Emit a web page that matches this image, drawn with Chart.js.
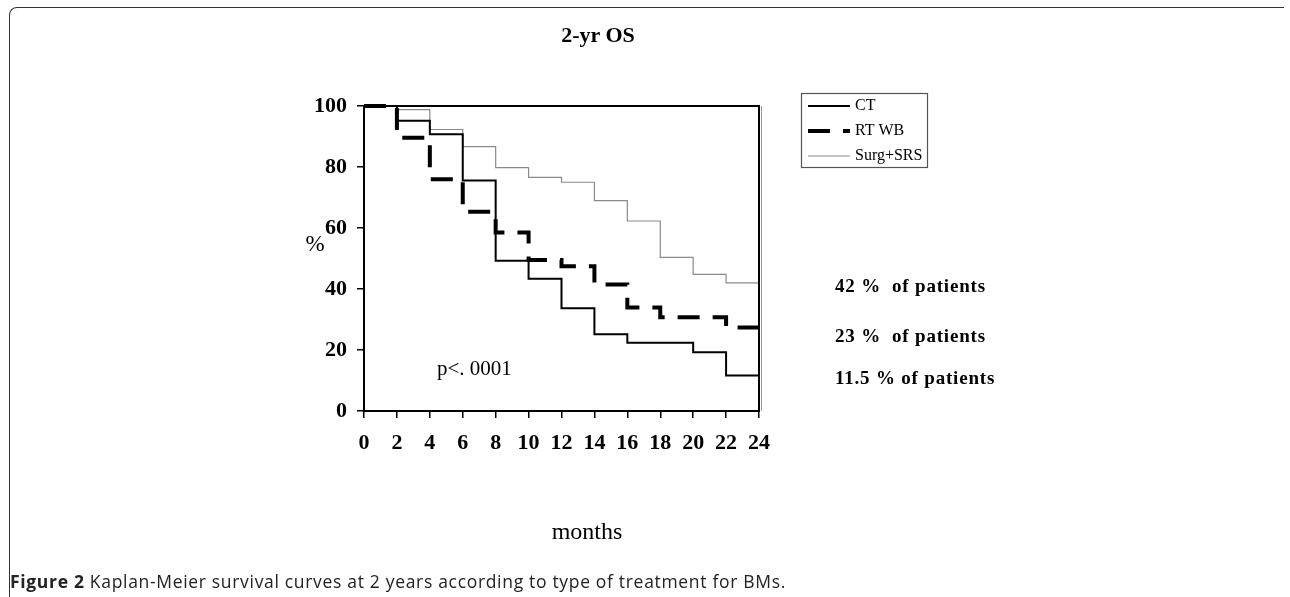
<!DOCTYPE html>
<html>
<head>
<meta charset="utf-8">
<script src="https://cdn.jsdelivr.net/npm/chart.js@4.4.0/dist/chart.umd.min.js"></script>
<style>
  html, body { margin: 0; padding: 0; background: #fff; }
  body { width: 1290px; height: 597px; position: relative; overflow: hidden; }
  #frame {
    position: absolute; left: 9px; top: 7px; width: 1274px; height: 620px;
    border-top: 1.5px solid #333; border-left: 1.5px solid #333;
    border-top-left-radius: 8px;
  }
  #wrap { position: absolute; left: 0; top: 0; }
  .txt { position: absolute; font-family: 'Liberation Serif', 'Times New Roman', serif; color: #000; line-height: 1; white-space: pre; }
  .c { transform: translate(-50%, -50%); }
  .l { transform: translate(0, -50%); }
  #title { left: 598px; top: 35px; font-size: 22px; font-weight: bold; }
  #pct { left: 315px; top: 243px; font-size: 23px; }
  #pval { left: 437px; top: 368px; font-size: 21px; }
  #xlab { left: 587px; top: 531px; font-size: 24px; }
  .note { left: 835px; font-size: 19px; font-weight: bold; letter-spacing: 0.8px; }
  #n0 { top: 285px; }
  #n1 { top: 335px; }
  #n2 { top: 377px; }
  #caption {
    position: absolute; left: 10px; top: 581px; transform: translate(0, -50%);
    font-family: 'Open Sans', sans-serif; font-size: 17.5px; letter-spacing: 0.68px;
    color: #222; white-space: nowrap;
  }
</style>
</head>
<body>
<div id="frame"></div>
<div id="wrap"><canvas id="km" width="1290" height="597"></canvas></div>
<div id="title" class="txt c">2-yr OS</div>
<div id="pct" class="txt c">%</div>
<div id="pval" class="txt l">p&lt;. 0001</div>
<div id="xlab" class="txt c">months</div>
<div id="notes"></div>
<div id="caption"><b>Figure 2</b> Kaplan-Meier survival curves at 2 years according to type of treatment for BMs.</div>

<script>
// months on the x axis (value at t holds until next step)
const months = [0, 2, 4, 6, 8, 10, 12, 14, 16, 18, 20, 22, 24];
const seriesNames = ['CT', 'RT WB', 'Surg+SRS'];

// survival %
const ctSurv   = [100, 95.2, 90.7, 75.6, 49.3, 43.4, 33.7, 25.2, 22.4, 22.4, 19.3, 11.6, 11.6];
const rtwbSurv = [100, 89.6, 76.0, 65.3, 58.5, 49.5, 47.5, 41.5, 33.9, 30.7, 30.7, 27.4, 27.4];
const surgSurv = [100, 98.8, 92.3, 86.7, 79.8, 76.6, 75.0, 69.0, 62.3, 50.4, 44.8, 42.0, 42.0];

const yTicks = [0, 20, 40, 60, 80, 100];
const notes = ['42 %  of patients', '23 %  of patients', '11.5 % of patients'];

const toPts = arr => months.map((m, i) => ({ x: m, y: arr[i] }));

const serifBold = { family: "'Liberation Serif', 'Times New Roman', serif", size: 22, weight: 'bold' };

// notes at the right
notes.forEach((t, i) => {
  const d = document.createElement('div');
  d.className = 'txt l note';
  d.id = 'n' + i;
  d.textContent = t;
  document.getElementById('notes').appendChild(d);
});

// box round the plot + the boxed legend
const extras = {
  id: 'extras',
  afterDatasetsDraw(chart) {
    const { ctx, chartArea: a } = chart;
    ctx.save();
    ctx.strokeStyle = '#000';
    ctx.lineWidth = 2;
    ctx.strokeRect(a.left, a.top, a.right - a.left, a.bottom - a.top);
    ctx.strokeStyle = '#999';
    ctx.lineWidth = 1;
    ctx.beginPath();
    ctx.moveTo(a.right + 2.5, a.top);
    ctx.lineTo(a.right + 2.5, a.bottom);
    ctx.stroke();

    // legend
    const bx = 801, by = 93, bw = 126, bh = 74;
    ctx.strokeStyle = '#555';
    ctx.lineWidth = 1.2;
    ctx.strokeRect(bx + 0.5, by + 0.5, bw, bh);
    ctx.font = "16px 'Liberation Serif', 'Times New Roman', serif";
    ctx.textBaseline = 'middle';
    ctx.fillStyle = '#000';
    chart.data.datasets.forEach((ds, i) => {
      const yy = by + 13 + i * 25;
      ctx.save();
      ctx.strokeStyle = ds.borderColor;
      ctx.lineWidth = ds.borderWidth;
      ctx.setLineDash(ds.borderDash || []);
      ctx.beginPath();
      ctx.moveTo(bx + 7, yy);
      ctx.lineTo(bx + 49, yy);
      ctx.stroke();
      ctx.restore();
      ctx.fillText(ds.label, bx + 54, yy);
    });
    ctx.restore();
  }
};

new Chart(document.getElementById('km').getContext('2d'), {
  type: 'line',
  data: {
    datasets: [
      { label: seriesNames[0], data: toPts(ctSurv), borderColor: '#000', borderWidth: 2, stepped: true },
      { label: seriesNames[1], data: toPts(rtwbSurv), borderColor: '#000', borderWidth: 4, borderDash: [22, 13], stepped: true },
      { label: seriesNames[2], data: toPts(surgSurv), borderColor: '#8a8a8a', borderWidth: 1.2, stepped: true }
    ]
  },
  options: {
    responsive: false,
    animation: false,
    clip: false,
    elements: { point: { radius: 0 } },
    layout: { padding: { left: 300, right: 531, top: 106, bottom: 146 } },
    plugins: { legend: { display: false }, tooltip: { enabled: false }, title: { display: false } },
    scales: {
      x: {
        type: 'linear', min: 0, max: 24,
        afterBuildTicks: s => { s.ticks = months.map(v => ({ value: v })); },
        afterFit: s => { s.height = 40; },
        border: { display: false },
        grid: { drawOnChartArea: false, drawTicks: true, tickLength: 7, color: '#000', lineWidth: 1.5 },
        ticks: { color: '#000', font: serifBold, padding: 12, maxRotation: 0, autoSkip: false }
      },
      y: {
        min: 0, max: 100,
        afterBuildTicks: s => { s.ticks = yTicks.map(v => ({ value: v })); },
        afterFit: s => { s.width = 64; },
        border: { display: false },
        grid: { drawOnChartArea: false, drawTicks: true, tickLength: 7, color: '#000', lineWidth: 1.5 },
        ticks: { color: '#000', font: serifBold, padding: 10 }
      }
    }
  },
  plugins: [extras]
});
</script>
</body>
</html>
